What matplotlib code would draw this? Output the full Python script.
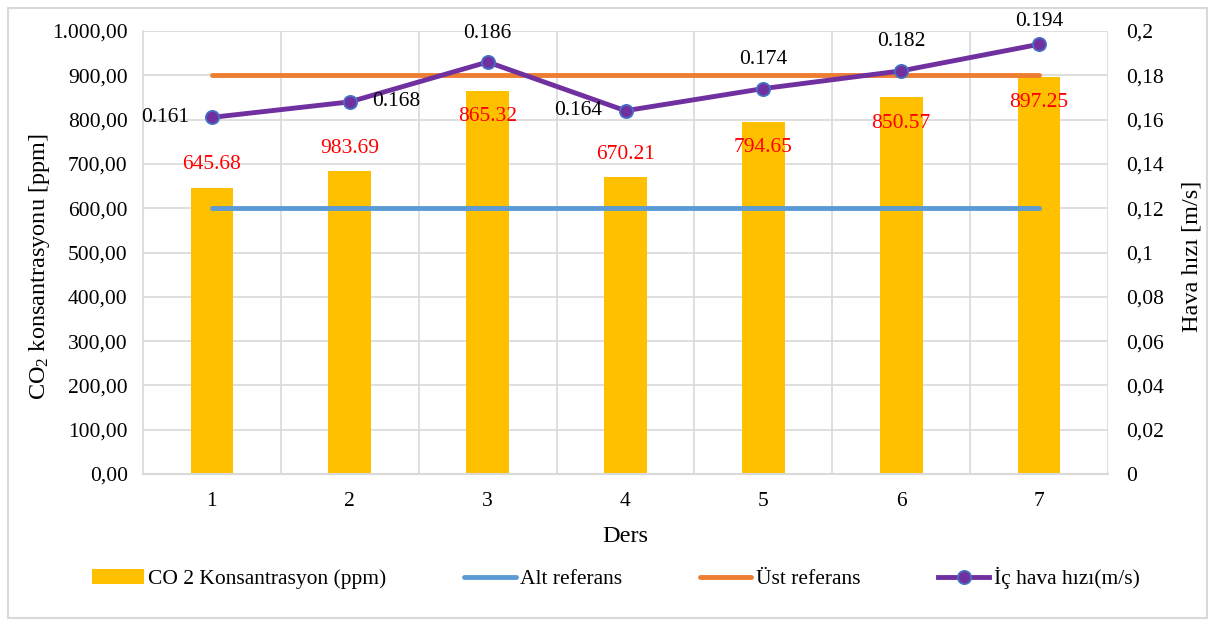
import matplotlib
matplotlib.use("Agg")
import matplotlib.pyplot as plt
from matplotlib.patches import Patch, Rectangle
from matplotlib.lines import Line2D
from matplotlib.ticker import FuncFormatter, MultipleLocator

plt.rcParams['font.family'] = ['Liberation Serif', 'DejaVu Serif']
plt.rcParams['mathtext.fontset'] = 'custom'
plt.rcParams['mathtext.rm'] = 'Liberation Serif'
plt.rcParams['mathtext.it'] = 'Liberation Serif'

# ---- data ----
categories = [1, 2, 3, 4, 5, 6, 7]
co2_values = [645.68, 683.69, 865.32, 670.21, 794.65, 850.57, 897.25]
co2_labels = ["645.68", "983.69", "865.32", "670.21", "794.65", "850.57", "897.25"]
co2_label_side = ["out", "out", "in", "out", "in", "in", "in"]
alt_ref = [600, 600, 600, 600, 600, 600, 600]
ust_ref = [900, 900, 900, 900, 900, 900, 900]
air_speed = [0.161, 0.168, 0.186, 0.164, 0.174, 0.182, 0.194]
air_labels = ["0.161", "0.168", "0.186", "0.164", "0.174", "0.182", "0.194"]
air_label_side = ["left", "right", "above", "left", "above", "above", "above"]

C_BAR = "#FFC000"
C_ALT = "#5B9BD5"
C_UST = "#ED7D31"
C_AIR = "#7030A0"
C_EDGE = "#4472C4"
C_GRID = "#D9D9D9"

FS = 15.5
FS_T = 17.5
LW = 3.5

fig = plt.figure(figsize=(12.15, 6.26), dpi=100)
fig.patch.set_facecolor("white")
fig.add_artist(Rectangle((8/1215, 8/626), 1199/1215, 610/626, transform=fig.transFigure,
                         fill=False, edgecolor=C_GRID, linewidth=1.5))

ax = fig.add_axes([143/1215, 1-474/626, (1108-143)/1215, (474-31)/626])
ax2 = ax.twinx()

ax.bar(categories, co2_values, width=0.31, color=C_BAR, zorder=2)
ax.plot(categories, alt_ref, color=C_ALT, linewidth=LW, solid_capstyle="round", zorder=3)
ax.plot(categories, ust_ref, color=C_UST, linewidth=LW, solid_capstyle="round", zorder=3)

ax.set_xlim(0.5, 7.5)
ax.set_ylim(0, 1000)
ax.yaxis.set_major_locator(MultipleLocator(100))
ax.set_xticks(categories)

def left_fmt(v, pos):
    s = f"{v:,.2f}"
    return s.replace(",", "X").replace(".", ",").replace("X", ".")
ax.yaxis.set_major_formatter(FuncFormatter(left_fmt))

ax2.set_ylim(0, 0.2)
ax2.yaxis.set_major_locator(MultipleLocator(0.02))
def right_fmt(v, pos):
    s = f"{v:.2f}".rstrip("0").rstrip(".")
    return s.replace(".", ",")
ax2.yaxis.set_major_formatter(FuncFormatter(right_fmt))

ax2.plot(categories, air_speed, color=C_AIR, linewidth=LW, marker="o", markersize=9.5,
         markerfacecolor=C_AIR, markeredgecolor=C_EDGE, markeredgewidth=1.3, zorder=5)

# grid
ax.set_axisbelow(True)
ax.yaxis.grid(True, color=C_GRID, linewidth=1.2)
for xb in [1.5, 2.5, 3.5, 4.5, 5.5, 6.5, 7.5]:
    ax.axvline(xb, color=C_GRID, linewidth=1.2, zorder=0)
for a in (ax, ax2):
    for s in a.spines.values():
        s.set_visible(False)
ax.spines['bottom'].set_visible(True)
ax.spines['bottom'].set_color(C_GRID)
ax.spines['bottom'].set_linewidth(1.5)
ax.spines['left'].set_visible(True)
ax.spines['left'].set_color(C_GRID)
ax.spines['left'].set_linewidth(1.2)

ax.tick_params(axis="both", length=0, labelsize=FS)
ax.tick_params(axis="y", pad=11)
ax.tick_params(axis="x", pad=13)
ax2.tick_params(axis="y", length=0, labelsize=FS, pad=13)

ax.set_xlabel("Ders", fontsize=FS_T)
ax.xaxis.label.set_va("center")
ax.xaxis.set_label_coords(0.5, (474-537)/443)

ax.set_ylabel(r"CO$_\mathrm{2}$ konsantrasyonu [ppm]", fontsize=FS_T)
ax.yaxis.label.set_va("center")
ax.yaxis.set_label_coords((40-143)/965, (474-267)/443)

ax2.set_ylabel("Hava hızı [m/s]", fontsize=FS_T, rotation=90)
ax2.yaxis.label.set_va("center")
ax2.yaxis.set_label_coords((1192-143)/965, (474-256)/443)

# bar labels
for x, v, lab, side in zip(categories, co2_values, co2_labels, co2_label_side):
    dy = 23 if side == "out" else -26
    ax2.annotate(lab, xy=(x, v / 5000.0), xytext=(0, dy), textcoords="offset pixels",
                 ha="center", va="center", color="#FF0000", fontsize=FS, zorder=6)

# line labels
for i, (x, v, lab, side) in enumerate(zip(categories, air_speed, air_labels, air_label_side)):
    if side == "left":
        ax2.annotate(lab, xy=(x, v), xytext=(-23, 0), textcoords="offset pixels",
                     ha="right", va="center", color="black", fontsize=FS, zorder=6)
    elif side == "right":
        ax2.annotate(lab, xy=(x, v), xytext=(22, 0), textcoords="offset pixels",
                     ha="left", va="center", color="black", fontsize=FS, zorder=6)
    else:
        dy = 23 if i == len(categories) - 1 else 29
        ax2.annotate(lab, xy=(x, v), xytext=(0, dy), textcoords="offset pixels",
                     ha="center", va="center", color="black", fontsize=FS, zorder=6,
                     annotation_clip=False)

handles = [
    Patch(facecolor=C_BAR, edgecolor="none"),
    Line2D([], [], color=C_ALT, linewidth=LW, solid_capstyle="round"),
    Line2D([], [], color=C_UST, linewidth=LW, solid_capstyle="round"),
    Line2D([], [], color=C_AIR, linewidth=LW, marker="o", markersize=9.5,
           markerfacecolor=C_AIR, markeredgecolor=C_EDGE, markeredgewidth=1.3),
]
labels = ["CO 2 Konsantrasyon (ppm)", "Alt referans", "Üst referans", "İç hava hızı(m/s)"]
fig.legend(handles, labels, loc="center", bbox_to_anchor=(616/1215, 1-578/626), ncol=4,
           frameon=False, fontsize=FS, handlelength=2.4, handletextpad=0.2,
           columnspacing=3.6)

fig.savefig("out.png", dpi=100, facecolor="white")
